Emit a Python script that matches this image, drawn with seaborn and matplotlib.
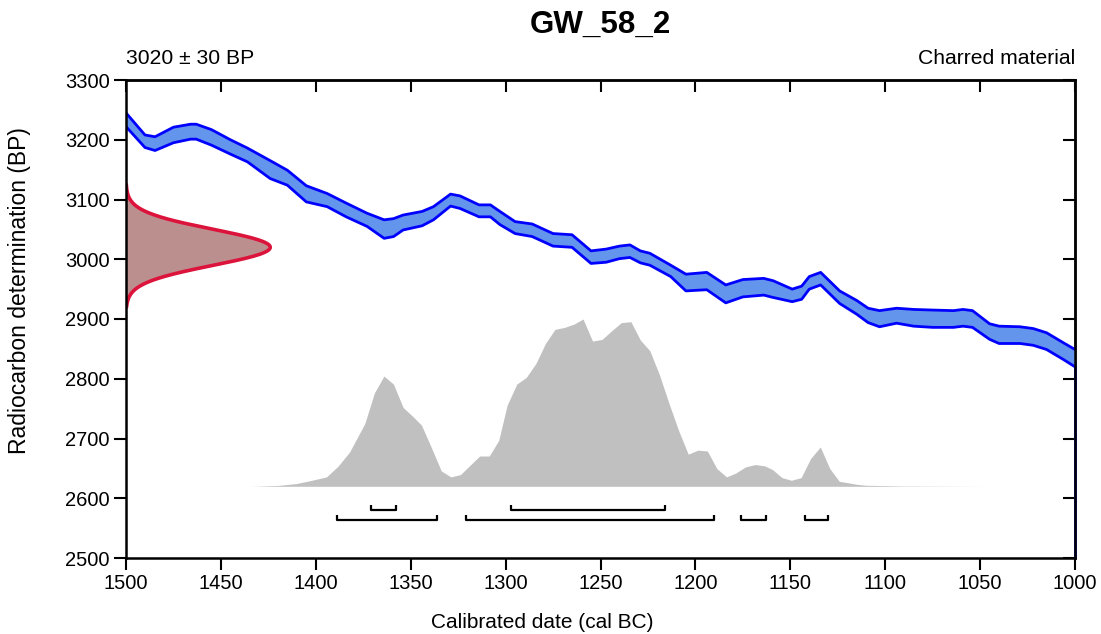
import numpy as np
import pandas as pd
import matplotlib
matplotlib.use("Agg")
import matplotlib.pyplot as plt
import seaborn as sns

# ---------------- data ----------------
TITLE = "GW_58_2"
DETERMINATION = "3020 ± 30 BP"
MATERIAL = "Charred material"
C14_MEAN = 3020
C14_SD = 30

curve_years = [1500, 1490, 1484.7, 1475, 1466, 1463, 1455, 1445, 1436, 1424, 1415, 1405,
               1394, 1384, 1373, 1364, 1359, 1354, 1344, 1338, 1329, 1324, 1314, 1308,
               1303, 1295, 1286, 1275, 1265, 1255, 1247, 1240, 1234.5, 1229, 1224, 1213,
               1205, 1194, 1184, 1175, 1164, 1159, 1149, 1144, 1140, 1134, 1124, 1115,
               1109, 1103, 1094, 1085, 1075, 1064, 1059, 1054, 1045, 1040, 1029, 1022,
               1015, 1006, 1000]
curve_upper = [3245, 3208, 3205, 3221, 3226, 3226, 3217, 3200, 3186, 3165, 3149, 3123,
               3110, 3094, 3077, 3066, 3068, 3074, 3080, 3088, 3109, 3106, 3091, 3091,
               3080, 3063, 3059, 3043, 3041, 3014, 3017, 3022, 3024, 3014, 3010, 2990,
               2975, 2978, 2957, 2966, 2968, 2964, 2950, 2955, 2971, 2978, 2947, 2931,
               2918, 2914, 2918, 2916, 2915, 2914, 2916, 2914, 2892, 2888, 2887, 2884,
               2877, 2860, 2849]
curve_lower = [3222, 3187, 3182, 3195, 3201, 3201, 3191, 3176, 3163, 3135, 3124, 3096,
               3088, 3071, 3055, 3035, 3038, 3049, 3056, 3066, 3089, 3085, 3071, 3071,
               3058, 3043, 3038, 3022, 3020, 2993, 2995, 3001, 3003, 2994, 2990, 2971,
               2947, 2949, 2927, 2937, 2940, 2936, 2929, 2933, 2950, 2957, 2926, 2908,
               2894, 2887, 2893, 2888, 2886, 2886, 2888, 2886, 2866, 2859, 2859, 2856,
               2849, 2832, 2820]

# calibrated probability (relative)
cal_years = [1434, 1420, 1410.5, 1404.4, 1394.4, 1388.3, 1382.2, 1374.2, 1369.1, 1364.1,
             1359.1, 1354, 1349, 1344.3, 1338.9, 1333.9, 1328.8, 1323.8, 1313.7, 1308.6,
             1303.6, 1299.2, 1294.1, 1289.1, 1284, 1279, 1274, 1268.9, 1263.9, 1259.2,
             1254.2, 1249.2, 1244.1, 1239.1, 1234, 1229, 1224, 1218.9, 1213.9, 1208.9,
             1203.8, 1198.7, 1193.7, 1188.7, 1183.6, 1178.6, 1173.6, 1168.5, 1163.5,
             1159.4, 1154.4, 1149.4, 1144.3, 1139.3, 1134.2, 1129.2, 1124.2, 1115, 1110,
             1090, 1047]
cal_prob = [0.0, 0.005, 0.016, 0.03, 0.056, 0.12, 0.205, 0.375, 0.559, 0.659,
            0.611, 0.471, 0.419, 0.365, 0.226, 0.092, 0.056, 0.07, 0.181, 0.181,
            0.275, 0.485, 0.611, 0.651, 0.735, 0.854, 0.938, 0.950, 0.970, 1.0,
            0.868, 0.878, 0.930, 0.978, 0.984, 0.874, 0.810, 0.665, 0.495, 0.335,
            0.192, 0.216, 0.211, 0.106, 0.056, 0.080, 0.116, 0.130, 0.122,
            0.100, 0.052, 0.036, 0.052, 0.166, 0.235, 0.106, 0.03, 0.012, 0.006,
            0.002, 0.0]

# highest posterior density ranges (cal BC)
hpd68_start = [1371, 1297]
hpd68_end = [1358, 1216]
hpd95_start = [1389, 1321, 1176, 1142]
hpd95_end = [1336, 1190, 1163, 1130]

x_ticks = [1500, 1450, 1400, 1350, 1300, 1250, 1200, 1150, 1100, 1050, 1000]
y_ticks = [2500, 2600, 2700, 2800, 2900, 3000, 3100, 3200, 3300]

# ---------------- style ----------------
sns.set_theme(style="ticks")
plt.rcParams["font.family"] = ["Liberation Sans", "DejaVu Sans"]

W, H = 1101, 634
fig = plt.figure(figsize=(W / 100, H / 100), dpi=100)
ax = fig.add_axes([126 / W, 1 - 558 / H, (1075 - 126) / W, (558 - 80) / H])

ax.set_xlim(1500, 1000)
ax.set_ylim(2500, 3300)

# calibration curve band
curve = pd.DataFrame({"year": curve_years, "upper": curve_upper, "lower": curve_lower})
ax.fill_between(curve["year"], curve["lower"], curve["upper"], color="#6495ED", lw=0, zorder=2)
for col in ("upper", "lower"):
    sns.lineplot(data=curve, x="year", y=col, color="#0000FF", lw=2.0, ax=ax, zorder=3,
                 solid_joinstyle="round", solid_capstyle="round")
ax.plot([curve_years[-1]] * 2, [2500, curve_lower[-1]], color="#0000FF", lw=1.8, zorder=3,
        clip_on=False)

# radiocarbon determination distribution (on y axis)
bp = np.linspace(C14_MEAN - 100, C14_MEAN + 105, 300)
dens = np.exp(-0.5 * ((bp - C14_MEAN) / C14_SD) ** 2)
x_left = 1500
width_years = 76
xd = x_left - width_years * dens
ax.fill_betweenx(bp, x_left, xd, color="#BC8F8F", lw=0, zorder=2)
outline = pd.DataFrame({"x": np.r_[x_left, xd, x_left], "y": np.r_[bp[0], bp, bp[-1]]})
sns.lineplot(data=outline, x="x", y="y", sort=False, color="#DC143C", lw=2.6, ax=ax,
             zorder=3, estimator=None, solid_joinstyle="round")

# calibrated distribution
base = 2620
height = 280
cal = pd.DataFrame({"year": cal_years, "p": cal_prob})
ax.fill_between(cal["year"], base, base + cal["p"] * height, color="#C0C0C0", lw=0, zorder=1)

# HPD brackets
def bracket(x0, x1, y, h=8.5):
    ax.plot([x0, x0, x1, x1], [y + h, y, y, y + h], color="black", lw=1.6,
            solid_capstyle="butt", zorder=3)

for s, e in zip(hpd68_start, hpd68_end):
    bracket(s, e, 2580.5)
for s, e in zip(hpd95_start, hpd95_end):
    bracket(s, e, 2563.5)

# ticks
ax.set_xticks(x_ticks)
ax.set_yticks(y_ticks)
ax.tick_params(axis="both", direction="out", length=8.6, width=1.5, labelsize=14.5,
               colors="black", pad=3)
for sp in ax.spines.values():
    sp.set_linewidth(1.8)
    sp.set_color("black")
    sp.set_visible(True)
    sp.set_zorder(5)

top = ax.secondary_xaxis("top")
top.set_xticks(x_ticks)
top.tick_params(direction="in", length=8.6, width=1.5, labeltop=False, colors="black")
right = ax.secondary_yaxis("right")
right.set_yticks(y_ticks)
right.tick_params(direction="in", length=8.6, width=1.5, labelright=False, colors="black")
for sec in (top, right):
    for sp in sec.spines.values():
        sp.set_linewidth(1.8)

ax.set_xlabel("Calibrated date (cal BC)", fontsize=15, color="black")
ax.xaxis.label.set_va("center")
ax.xaxis.set_label_coords((542.7 - 126) / 949, (558 - 622) / 478)
ax.set_ylabel("Radiocarbon determination (BP)", fontsize=16.5, color="black")
ax.yaxis.label.set(va="center", ha="center", rotation_mode="default")
ax.yaxis.set_label_coords((20 - 126) / 949, (558 - 291) / 478)

# texts
ax.text(0.5, (558 - 25) / 478, TITLE, transform=ax.transAxes, ha="center", va="center",
        fontsize=22.5, fontweight="bold", color="black")
ax.text(0.0, (558 - 58) / 478, DETERMINATION, transform=ax.transAxes, ha="left",
        va="center", fontsize=15.2, color="black")
ax.text(1.0, (558 - 58) / 478, MATERIAL, transform=ax.transAxes, ha="right",
        va="center", fontsize=15.2, color="black")

fig.savefig("out.png", dpi=100)
